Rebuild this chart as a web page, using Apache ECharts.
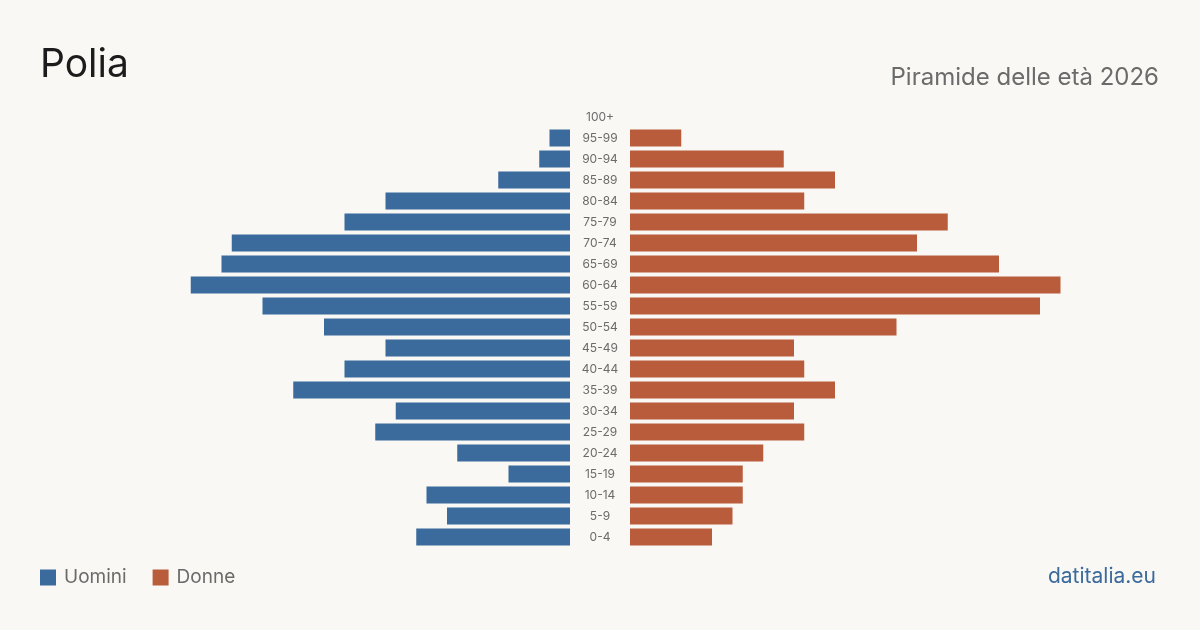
<!DOCTYPE html>
<html>
<head>
<meta charset="utf-8">
<script src="https://cdn.jsdelivr.net/npm/echarts@6/dist/echarts.min.js"></script>
<style>
    html, body { margin: 0; padding: 0; background: #f9f8f4; }
    #chart { width: 1200px; height: 630px; }
</style>
</head>
<body>
<div id="chart"></div>
<script>
// fasce d'età, dal basso verso l'alto
var ages = ['0-4', '5-9', '10-14', '15-19', '20-24', '25-29', '30-34', '35-39', '40-44', '45-49',
    '50-54', '55-59', '60-64', '65-69', '70-74', '75-79', '80-84', '85-89', '90-94', '95-99', '100+'];
var uomini = [15, 12, 14, 6, 11, 19, 17, 27, 22, 18, 24, 30, 37, 34, 33, 22, 18, 7, 3, 2, 0];
var donne = [8, 10, 11, 11, 13, 17, 16, 20, 17, 16, 26, 40, 42, 36, 28, 31, 17, 20, 15, 5, 0];
var maxVal = 42;

var BLUE = '#3b6a9c';
var RED = '#b95c3b';
var FONT = 'Inter, "Noto Sans", sans-serif';

var chart = echarts.init(document.getElementById('chart'));

chart.setOption({
    backgroundColor: '#f9f8f4',
    animation: false,
    textStyle: { fontFamily: FONT },
    title: [
        { text: 'Polia', left: 35, top: 41, textStyle: { fontSize: 39, fontWeight: 'normal', color: '#1c1c1c', fontFamily: FONT } },
        { text: 'Piramide delle età 2026', right: 36, top: 61, textStyle: { fontSize: 24, fontWeight: 'normal', color: '#6b6b6b', fontFamily: FONT } },
        { text: 'datitalia.eu', right: 39, top: 561, textStyle: { fontSize: 21, fontWeight: 'normal', color: '#3b6a9c', fontFamily: FONT } }
    ],
    legend: {
        left: 35, top: 563,
        itemWidth: 16, itemHeight: 16, itemGap: 26,
        icon: 'rect',
        textStyle: { fontSize: 19, color: '#6b6b6b', fontFamily: FONT, padding: [0, 0, 0, 3] },
        data: ['Uomini', 'Donne']
    },
    grid: [
        { left: 139.5, width: 430.5, top: 106.5, height: 441 },
        { left: 630, width: 430.5, top: 106.5, height: 441 }
    ],
    xAxis: [
        { gridIndex: 0, type: 'value', min: 0, max: maxVal, inverse: true, show: false },
        { gridIndex: 1, type: 'value', min: 0, max: maxVal, show: false }
    ],
    yAxis: [
        { gridIndex: 0, type: 'category', data: ages, position: 'right', show: false },
        {
            gridIndex: 1, type: 'category', data: ages, position: 'left',
            axisLine: { show: false }, axisTick: { show: false },
            axisLabel: { margin: 30, align: 'center', fontSize: 12, color: '#6b6b6b', fontFamily: FONT }
        }
    ],
    series: [
        { name: 'Uomini', type: 'bar', xAxisIndex: 0, yAxisIndex: 0, data: uomini, barWidth: 17, itemStyle: { color: BLUE } },
        { name: 'Donne', type: 'bar', xAxisIndex: 1, yAxisIndex: 1, data: donne, barWidth: 17, itemStyle: { color: RED } }
    ]
});
</script>
</body>
</html>
